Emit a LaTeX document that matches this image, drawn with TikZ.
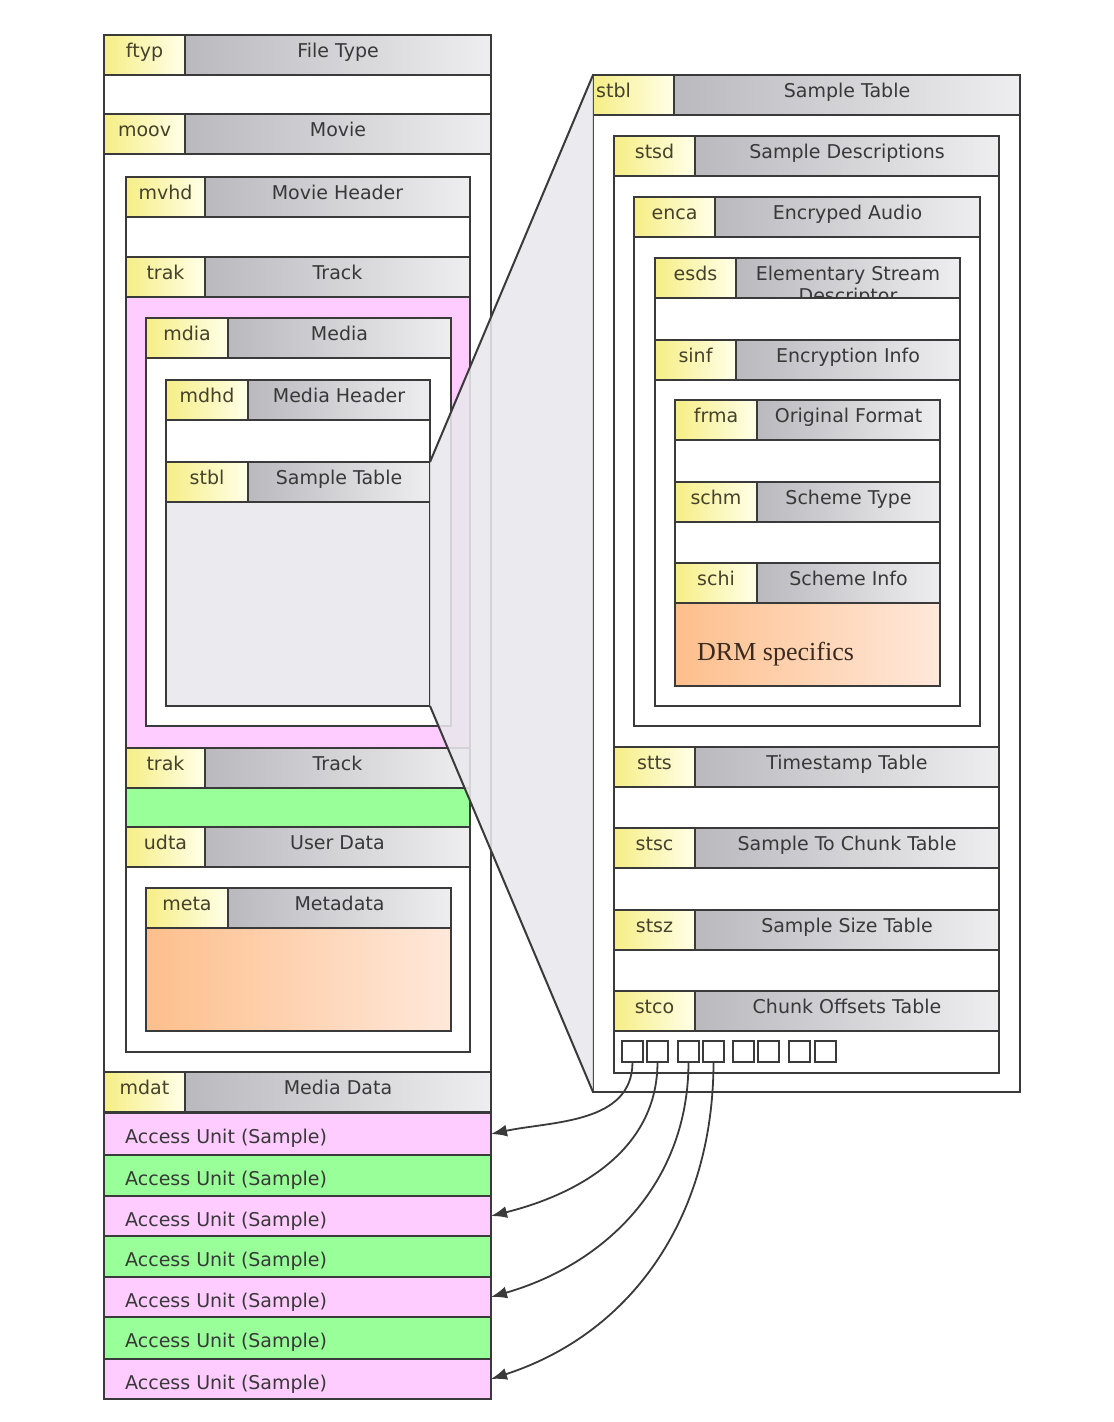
\documentclass[tikz,border=0pt]{standalone}
\usepackage{fontspec}
\setmainfont{DejaVu Sans}
\newfontfamily\drmfont{Liberation Serif}
\usetikzlibrary{arrows.meta}
\definecolor{edge}{HTML}{3A3A3A}
\definecolor{labL}{HTML}{F6EE86}
\definecolor{labR}{HTML}{FFFFE8}
\definecolor{hdrL}{HTML}{B9B9BE}
\definecolor{hdrR}{HTML}{EEEEF0}
\definecolor{pinkf}{HTML}{FFCCFF}
\definecolor{greenf}{HTML}{99FF99}
\definecolor{oraL}{HTML}{FDBF8C}
\definecolor{oraR}{HTML}{FFE8DA}
\definecolor{stblgray}{HTML}{EBEAEE}
\definecolor{zoomgray}{HTML}{E9E8EC}
\definecolor{txt}{HTML}{383838}
\definecolor{labtxt}{HTML}{45412C}
\definecolor{drmtxt}{HTML}{3A2A20}
\tikzset{
  boxbase/.style={draw=edge, line width=2.1pt, inner sep=0pt, outer sep=0pt, anchor=north west},
  whitebox/.style={fill=white},
  pinkbox/.style={fill=pinkf},
  greenbox/.style={fill=greenf},
  graybox/.style={fill=stblgray},
  orabox/.style={left color=oraL, right color=oraR},
  labfill/.style={left color=labL, right color=labR},
  ttlfill/.style={left color=hdrL, right color=hdrR},
  labtext/.style={font=\fontsize{19}{23}\selectfont, text=labtxt, inner sep=0pt},
  ttltext/.style={font=\fontsize{19}{23}\selectfont, text=txt, inner sep=0pt},
  autext/.style={font=\fontsize{19}{23}\selectfont, text=txt, inner sep=0pt},
  drmtext/.style={font=\drmfont\fontsize{26}{30}\selectfont, text=drmtxt, inner sep=0pt},
  sqbox/.style={draw=edge, line width=2pt, fill=white, minimum width=21pt, minimum height=21pt, inner sep=0pt, outer sep=0pt, anchor=north west},
  magline/.style={draw=edge, line width=2pt},
  ptr/.style={draw=edge, line width=1.8pt, -{Latex[length=16pt,width=12pt]}},
}
% box: name x1 y1 x2 y2 fillstyle
\newcommand\mybox[6]{%
  \node[boxbase, #6, minimum width={(#4-#2)*1pt}, minimum height={(#5-#3)*1pt}] (#1) at (#2,#3) {};}
% header: name x1 y1 xsplit x2 label title
\newcommand\hdr[7]{%
  \node[boxbase, labfill, minimum width={(#4-#2)*1pt}, minimum height=40pt] (#1L) at (#2,#3) {};
  \node[boxbase, ttlfill, minimum width={(#5-#4)*1pt}, minimum height=40pt] (#1T) at (#4,#3) {};
  \node[labtext, anchor=base] (#1Lx) at ([yshift=-22pt]#1L.north) {#6};
  \node[ttltext, anchor=base] (#1Tx) at ([yshift=-22pt]#1T.north) {#7};}
% access unit: name ytop ybottom fill
\newcommand\au[4]{%
  \mybox{#1}{104}{#2}{491}{#3}{#4}
  \node[autext, anchor=base west] (#1x) at (125,#2+30) {Access Unit (Sample)};}
\begin{document}
\begin{tikzpicture}[x=1pt,y=-1pt]
\useasboundingbox[fill=white] (0,0) rectangle (1114,1422);

% ---------------- left column ----------------
\mybox{ftyp}{104}{35}{491}{114}{whitebox}
\hdr{ftypH}{104}{35}{185}{491}{ftyp}{File Type}
\mybox{moov}{104}{114}{491}{1072}{whitebox}
\hdr{moovH}{104}{114}{185}{491}{moov}{Movie}
\mybox{mvhd}{126}{177}{470}{257}{whitebox}
\hdr{mvhdH}{126}{177}{205}{470}{mvhd}{Movie Header}
\mybox{trakA}{126}{257}{470}{748}{pinkbox}
\hdr{trakAH}{126}{257}{205}{470}{trak}{Track}
\mybox{mdia}{146}{318}{451}{726}{whitebox}
\hdr{mdiaH}{146}{318}{228}{451}{mdia}{Media}
\mybox{mdhd}{166}{380}{430}{462}{whitebox}
\hdr{mdhdH}{166}{380}{248}{430}{mdhd}{Media Header}
\mybox{stblS}{166}{462}{430}{706}{graybox}
\hdr{stblSH}{166}{462}{248}{430}{stbl}{Sample Table}
\mybox{trakB}{126}{748}{470}{827}{greenbox}
\hdr{trakBH}{126}{748}{205}{470}{trak}{Track}
\mybox{udta}{126}{827}{470}{1052}{whitebox}
\hdr{udtaH}{126}{827}{205}{470}{udta}{User Data}
\mybox{meta}{146}{888}{451}{1031}{orabox}
\hdr{metaH}{146}{888}{228}{451}{meta}{Metadata}
\mybox{mdat}{104}{1072}{491}{1113}{whitebox}
\hdr{mdatH}{104}{1072}{185}{491}{mdat}{Media Data}
\au{au1}{1113}{1155}{pinkbox}
\au{au2}{1155}{1196}{greenbox}
\au{au3}{1196}{1236}{pinkbox}
\au{au4}{1236}{1277}{greenbox}
\au{au5}{1277}{1317}{pinkbox}
\au{au6}{1317}{1359}{greenbox}
\au{au7}{1359}{1399}{pinkbox}

% ---------------- right column ----------------
\mybox{stblB}{593}{75}{1020}{1092}{whitebox}
\hdr{stblBH}{593}{75}{674}{1020}{}{Sample Table}
\node[labtext, anchor=base west] (stblBlab) at (596,97) {stbl};
\mybox{stsd}{614}{136}{999}{747}{whitebox}
\hdr{stsdH}{614}{136}{695}{999}{stsd}{Sample Descriptions}
\mybox{enca}{634}{197}{980}{726}{whitebox}
\hdr{encaH}{634}{197}{715}{980}{enca}{Encryped Audio}
\mybox{esds}{655}{258}{960}{340}{whitebox}
\node[boxbase, labfill, minimum width=81pt, minimum height=40pt] (esdsHL) at (655,258) {};
\node[boxbase, ttlfill, minimum width=224pt, minimum height=40pt] (esdsHT) at (736,258) {};
\node[labtext, anchor=base] (esdsHLx) at ([yshift=-22pt]esdsHL.north) {esds};
\node[ttltext, anchor=base] (esdsHTx) at ([yshift=-22pt]esdsHT.north) {Elementary Stream};
\begin{scope}
  \clip (esdsHT.north west) rectangle (esdsHT.south east);
  \node[ttltext, anchor=base] (esdsHTy) at ([yshift=-44pt]esdsHT.north) {Descriptor};
\end{scope}
\draw[edge, line width=2.1pt] (esdsHT.north west) rectangle (esdsHT.south east);
\mybox{sinf}{655}{340}{960}{706}{whitebox}
\hdr{sinfH}{655}{340}{736}{960}{sinf}{Encryption Info}
\mybox{frma}{675}{400}{940}{482}{whitebox}
\hdr{frmaH}{675}{400}{757}{940}{frma}{Original Format}
\mybox{schm}{675}{482}{940}{563}{whitebox}
\hdr{schmH}{675}{482}{757}{940}{schm}{Scheme Type}
\mybox{schi}{675}{563}{940}{686}{orabox}
\hdr{schiH}{675}{563}{757}{940}{schi}{Scheme Info}
\node[drmtext, anchor=base west] (drm) at (697,660) {DRM specifics};
\mybox{stts}{614}{747}{999}{828}{whitebox}
\hdr{sttsH}{614}{747}{695}{999}{stts}{Timestamp Table}
\mybox{stsc}{614}{828}{999}{910}{whitebox}
\hdr{stscH}{614}{828}{695}{999}{stsc}{Sample To Chunk Table}
\mybox{stsz}{614}{910}{999}{991}{whitebox}
\hdr{stszH}{614}{910}{695}{999}{stsz}{Sample Size Table}
\mybox{stco}{614}{991}{999}{1073}{whitebox}
\hdr{stcoH}{614}{991}{695}{999}{stco}{Chunk Offsets Table}
\foreach \i/\x in {1/622,2/647,3/678,4/703,5/733,6/758,7/789,8/815}
  \node[sqbox] (sq\i) at (\x,1041) {};

% ---------------- magnifier ----------------
\fill[zoomgray, opacity=0.88] (stblS.north east) -- (stblB.north west)
  -- (stblB.south west) -- (stblS.south east) -- cycle;
\draw[magline] (stblS.north east) -- (stblB.north west);
\draw[magline] (stblS.south east) -- (stblB.south west);

% ---------------- pointers ----------------
\draw[ptr] (sq1.south) to[out=-90, in=12] (au1.east);
\draw[ptr] (sq2.south) to[out=-90, in=14] (au3.east);
\draw[ptr] (sq3.south) to[out=-90, in=16] (au5.east);
\draw[ptr] (sq4.south) to[out=-90, in=18] (au7.east);
\end{tikzpicture}
\end{document}
